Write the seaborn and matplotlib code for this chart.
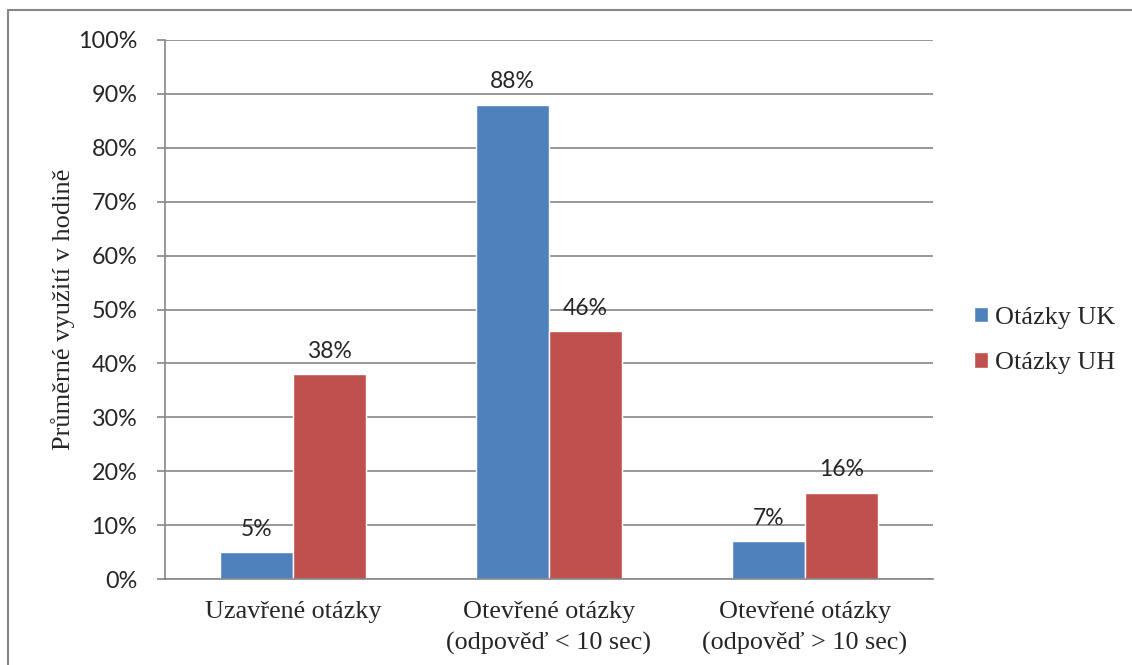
import matplotlib
matplotlib.use("Agg")
import matplotlib.pyplot as plt
import matplotlib.lines as mlines
import pandas as pd
import seaborn as sns

# Chart data
categories = ["Uzavřené otázky",
              "Otevřené otázky\n(odpověď < 10 sec)",
              "Otevřené otázky\n(odpověď > 10 sec)"]
series_names = ["Otázky UK", "Otázky UH"]
uk_values = [5, 88, 7]
uh_values = [38, 46, 16]
y_ticks = [0, 10, 20, 30, 40, 50, 60, 70, 80, 90, 100]

df = pd.DataFrame({
    "Kategorie": categories * 2,
    "Série": [series_names[0]] * 3 + [series_names[1]] * 3,
    "Hodnota": uk_values + uh_values,
})

sns.set_style("white")
sans = ["Lato", "DejaVu Sans"]
serif = ["Liberation Serif", "DejaVu Serif"]
grey = "#868686"

fig = plt.figure(figsize=(11.32, 6.65), dpi=100)
fig.subplots_adjust(left=165 / 1132, right=933 / 1132, top=1 - 40 / 665, bottom=1 - 579 / 665)
ax = fig.add_subplot(111)

sns.barplot(data=df, x="Kategorie", y="Hodnota", hue="Série",
            palette=["#4F81BD", "#C0504D"], width=0.57, gap=0,
            saturation=1, ax=ax, legend=True)

ax.set_ylim(0, 100)
ax.set_xlim(-0.5, 2.5)
ax.set_yticks(y_ticks)
ax.set_yticklabels([f"{t}%" for t in y_ticks], fontsize=16.8, family=sans)
ax.yaxis.grid(True, color=grey, linewidth=1.2)
ax.set_axisbelow(True)

# category ticks sit between groups, like Excel
ax.set_xticks([0, 1, 2])
ax.set_xticklabels(categories, fontsize=18.8, family=serif, linespacing=1.5)
ax.set_xticks([-0.5, 0.5, 1.5, 2.5], minor=True)
ax.tick_params(axis="x", which="major", length=0, pad=16)
ax.tick_params(axis="x", which="minor", length=6, width=1.2, color=grey, direction="out")
ax.tick_params(axis="y", length=6, width=1.2, color=grey, direction="out", pad=14, left=True)

for s in ["top", "right"]:
    ax.spines[s].set_visible(False)
for s in ["left", "bottom"]:
    ax.spines[s].set_color(grey)
    ax.spines[s].set_linewidth(1.2)

ax.set_xlabel("")
ax.set_ylabel("Průměrné využití v hodině", fontsize=19, family=serif, labelpad=2)

for cont in ax.containers:
    ax.bar_label(cont, labels=[f"{v:.0f}%" for v in cont.datavalues],
                 padding=9, fontsize=16.5, family=sans)

leg = ax.legend(loc="center left", bbox_to_anchor=((974 - 165) / 768, (579 - 340.5) / 539),
                frameon=False, borderpad=0, borderaxespad=0,
                prop={"family": serif, "size": 18.8}, handlelength=0.53,
                handleheight=0.53, handletextpad=0.27, labelspacing=0.9)

# outer chart border (top and left visible)
fig.add_artist(mlines.Line2D([8 / 1132, 8 / 1132], [0, 1 - 10 / 665],
                             transform=fig.transFigure, color=grey, lw=1.5))
fig.add_artist(mlines.Line2D([8 / 1132, 1], [1 - 10 / 665, 1 - 10 / 665],
                             transform=fig.transFigure, color=grey, lw=1.5))

fig.savefig("out.png", dpi=100)
